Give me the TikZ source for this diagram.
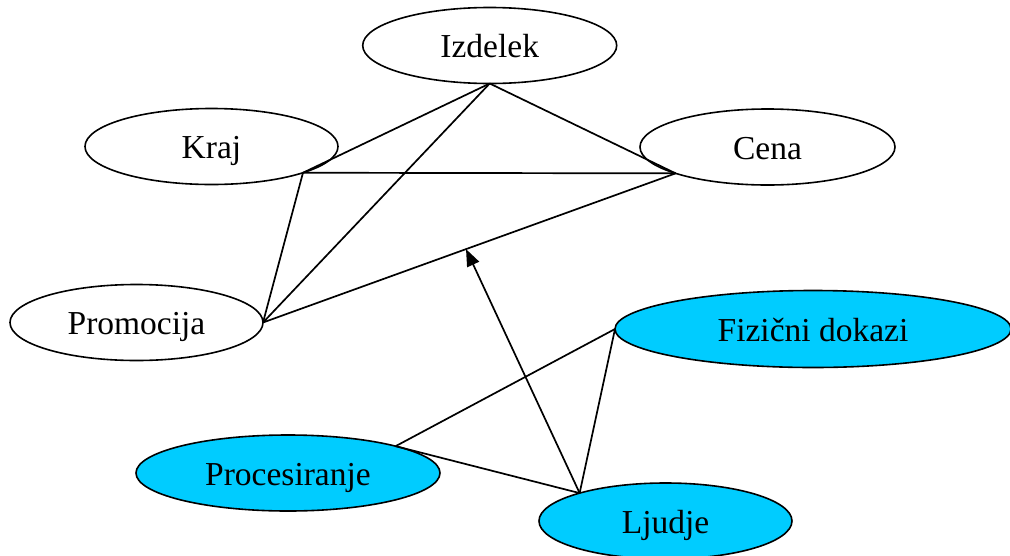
\documentclass[tikz,border=0pt]{standalone}
\usepackage{fontspec}
\setmainfont{Liberation Serif}
\usetikzlibrary{calc,arrows.meta,shapes.geometric}
\definecolor{mixfill}{HTML}{00CCFF}
\begin{document}
\begin{tikzpicture}[x=1pt,y=-1pt,
  oval/.style={ellipse,draw,line width=1.6pt,inner sep=0pt,outer sep=0pt,
    minimum height=76pt,font=\fontsize{33.5}{38}\selectfont,
    text height=24pt,text depth=0pt,fill=white},
  extra/.style={oval,fill=mixfill},
  link/.style={line width=1.7pt},
  push/.style={line width=1.7pt,-{Triangle[length=17pt,width=13pt]}}
]
\useasboundingbox (0,0) rectangle (1010,555);

% the four classic elements
\node[oval,minimum width=254pt] (izd)  at (489.7,45.5)  {Izdelek};
\node[oval,minimum width=253pt] (kraj) at (211.5,146.5) {Kraj};
\node[oval,minimum width=255pt] (cena) at (767.5,147)   {Cena};
\node[oval,minimum width=253pt] (prom) at (136.5,322.5) {Promocija};

% the three extended elements
\node[extra,minimum width=396pt,minimum height=77pt] (fiz) at (813,329) {Fizični dokazi};
\node[extra,minimum width=304pt] (proc) at (288,473)   {Procesiranje};
\node[extra,minimum width=253pt] (ljud) at (665.5,521) {Ljudje};

% connections among the classic elements
\draw[link] (izd.south) -- (kraj.-16.7);
\draw[link] (izd.south) -- (cena.-164);
\draw[link] (izd.south) -- (prom.east);
\draw[link] (kraj.-16.7) -- (cena.-164);
\draw[link] (kraj.-16.7) -- (prom.east);
\draw[link] (cena.-164) -- (prom.east);

% connections among the extended elements
\draw[link] (proc.14.3) -- (fiz.west);
\draw[link] (proc.14.3) -- (ljud.162.7);
\draw[link] (fiz.west) -- (ljud.162.7);

% the extended group points at the classic group
\coordinate (target) at ($(cena.-164)!0.508!(prom.east)$);
\draw[push] (ljud.162.7) -- (target);
\end{tikzpicture}
\end{document}
